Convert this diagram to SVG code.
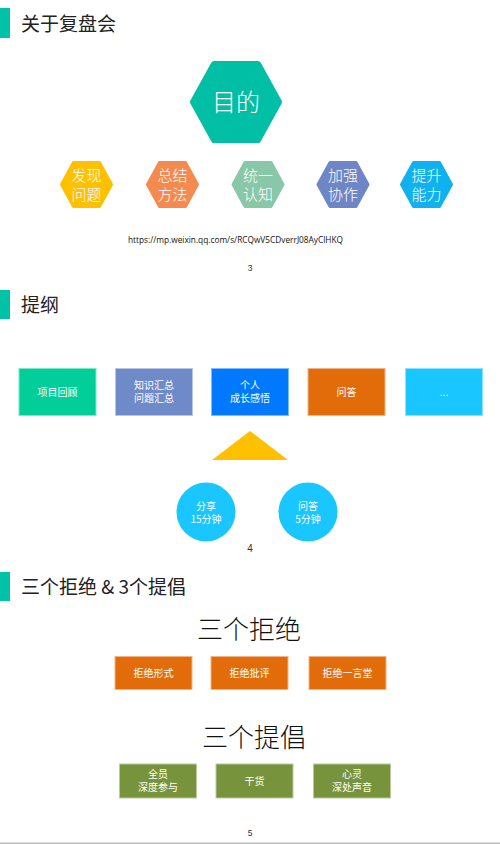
<svg xmlns="http://www.w3.org/2000/svg" width="500" height="844" viewBox="0 0 500 844">
<style>
text{font-family:"Noto Sans CJK SC","Noto Sans",sans-serif}
.t{font-size:19px;fill:#222}
.w{fill:#fff;text-anchor:middle}
.hx{font-size:15px;font-weight:300}
.bx{font-size:10px}
.pg{font-size:8.5px;fill:#333;text-anchor:middle;font-family:"Liberation Sans",sans-serif}
.big{font-size:26px;fill:#111;text-anchor:middle;font-weight:300}
.box{stroke-width:1;}
</style>
<defs>
<path id="hs" d="M-13,-22 H13 L25,0 L13,22 H-13 L-25,0 Z"/>
</defs>
<rect width="500" height="844" fill="#fff"/>
<g id="sec1">
<rect x="0" y="8" width="10" height="30" fill="#00C2A6"/>
<text class="t" x="21" y="31">关于复盘会</text>
</g>
<g id="purpose">
<path d="M214,64 H258 L279,102 L258,140 H214 L193,102 Z" fill="#00BFA5" stroke="#00BFA5" stroke-width="6" stroke-linejoin="round"/>
<text class="w" x="236" y="111" style="font-size:24px;font-weight:300">目的</text>
</g>
<g id="h1"><use href="#hs" x="86.5" y="184.5" fill="#FFC000" stroke="#FFC000" stroke-width="3" stroke-linejoin="round"/><text class="w hx" x="86.5" y="181">发现</text><text class="w hx" x="86.5" y="200">问题</text></g>
<g id="h2"><use href="#hs" x="172.5" y="184.5" fill="#F58A50" stroke="#F58A50" stroke-width="3" stroke-linejoin="round"/><text class="w hx" x="172.5" y="181">总结</text><text class="w hx" x="172.5" y="200">方法</text></g>
<g id="h3"><use href="#hs" x="258" y="184.5" fill="#88C8A8" stroke="#88C8A8" stroke-width="3" stroke-linejoin="round"/><text class="w hx" x="258" y="181">统一</text><text class="w hx" x="258" y="200">认知</text></g>
<g id="h4"><use href="#hs" x="343" y="184.5" fill="#6E86C6" stroke="#6E86C6" stroke-width="3" stroke-linejoin="round"/><text class="w hx" x="343" y="181">加强</text><text class="w hx" x="343" y="200">协作</text></g>
<g id="h5"><use href="#hs" x="426.5" y="184.5" fill="#0FB1EF" stroke="#0FB1EF" stroke-width="3" stroke-linejoin="round"/><text class="w hx" x="426.5" y="181">提升</text><text class="w hx" x="426.5" y="200">能力</text></g>
<text x="235.5" y="243" text-anchor="middle" style="font-family:'Open Sans','Liberation Sans',sans-serif;font-size:8.3px;fill:#111">https://mp.weixin.qq.com/s/RCQwV5CDverrJ08AyClHKQ</text>
<text class="pg" x="250" y="271">3</text>

<g id="sec2">
<rect x="0" y="290" width="10" height="29" fill="#00C2A6"/>
<text class="t" x="21" y="312">提纲</text>
</g>
<g id="b1"><rect class="box" x="19" y="368.5" width="77" height="47" fill="#02CE9A" stroke="#7fe6cc"/><text class="w bx" x="57.5" y="396">项目回顾</text></g>
<g id="b2"><rect class="box" x="115.5" y="368.5" width="77" height="47" fill="#6F8AC8" stroke="#b7c4e3"/><text class="w bx" x="154" y="389">知识汇总</text><text class="w bx" x="154" y="402">问题汇总</text></g>
<g id="b3"><rect class="box" x="211.5" y="368.5" width="77" height="47" fill="#0079FF" stroke="#80bcff"/><text class="w bx" x="250" y="389">个人</text><text class="w bx" x="250" y="402">成长感悟</text></g>
<g id="b4"><rect class="box" x="308" y="368.5" width="77" height="47" fill="#E36C0A" stroke="#f1b585"/><text class="w bx" x="346.5" y="396">问答</text></g>
<g id="b5"><rect class="box" x="405.5" y="368.5" width="77" height="47" fill="#1AC6FF" stroke="#8ce2ff"/><text class="w bx" x="444" y="396">...</text></g>
<g id="tri"><path d="M250,431 L288,460 H212 Z" fill="#FFC000"/></g>
<g id="c1"><circle cx="206" cy="512" r="29.5" fill="#1AC6FF"/><text class="w bx" x="206" y="510">分享</text><text class="w bx" x="206" y="523">15分钟</text></g>
<g id="c2"><circle cx="308" cy="512" r="29.5" fill="#1AC6FF"/><text class="w bx" x="308" y="510">问答</text><text class="w bx" x="308" y="523">5分钟</text></g>
<text class="pg" x="250" y="552" style="font-size:10px">4</text>

<g id="sec3">
<rect x="0" y="572" width="10" height="29" fill="#00C2A6"/>
<text class="t" x="21" y="594">三个拒绝 &amp; 3个提倡</text>
</g>
<text class="big" x="249" y="639">三个拒绝</text>
<g id="r1"><rect class="box" x="115" y="656.5" width="77" height="33" fill="#E36C0A" stroke="#f1b585"/><text class="w bx" x="153.5" y="677">拒绝形式</text></g>
<g id="r2"><rect class="box" x="211" y="656.5" width="77" height="33" fill="#E36C0A" stroke="#f1b585"/><text class="w bx" x="249.5" y="677">拒绝批评</text></g>
<g id="r3"><rect class="box" x="309" y="656.5" width="77" height="33" fill="#E36C0A" stroke="#f1b585"/><text class="w bx" x="347.5" y="677">拒绝一言堂</text></g>
<text class="big" x="254" y="747">三个提倡</text>
<g id="p1"><rect class="box" x="119.5" y="764" width="77" height="34" fill="#77933C" stroke="#bbc99d"/><text class="w bx" x="158" y="778">全员</text><text class="w bx" x="158" y="791">深度参与</text></g>
<g id="p2"><rect class="box" x="216" y="764" width="77" height="34" fill="#77933C" stroke="#bbc99d"/><text class="w bx" x="254.5" y="785">干货</text></g>
<g id="p3"><rect class="box" x="313.5" y="764" width="77" height="34" fill="#77933C" stroke="#bbc99d"/><text class="w bx" x="352" y="778">心灵</text><text class="w bx" x="352" y="791">深处声音</text></g>
<text class="pg" x="250" y="836">5</text>
<rect x="0" y="842.5" width="500" height="1.5" fill="#bbbbbb"/>
</svg>
